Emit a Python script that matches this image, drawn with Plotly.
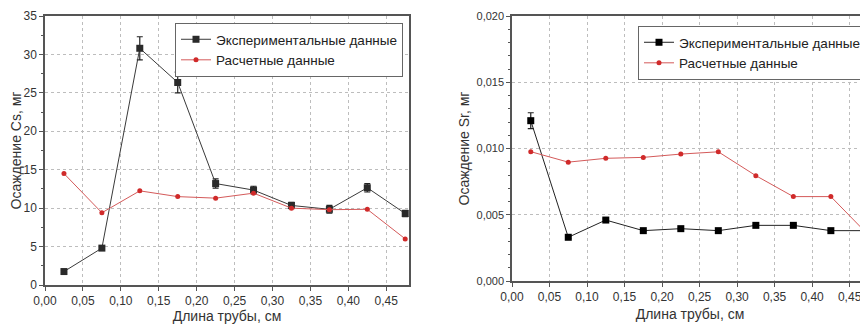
import plotly.graph_objects as go

x_len = [0.025, 0.075, 0.125, 0.175, 0.225, 0.275, 0.325, 0.375, 0.425, 0.475]

cs_exp = [1.75, 4.8, 30.8, 26.35, 13.2, 12.35, 10.35, 9.85, 12.65, 9.3]
cs_exp_err = [0.15, 0.2, 1.5, 1.35, 0.6, 0.5, 0.4, 0.5, 0.55, 0.4]
cs_calc = [14.5, 9.4, 12.25, 11.5, 11.3, 11.95, 10.0, 9.8, 9.85, 6.0]

sr_exp = [0.0121, 0.0033, 0.0046, 0.0038, 0.00395, 0.0038, 0.0042, 0.0042, 0.0038, 0.0038]
sr_exp_err = [0.0006, 0.0001, 0.0001, 0.00005, 0.00005, 0.00005, 0.00005, 0.00005, 0.00005, 0.00005]
sr_calc = [0.00976, 0.00897, 0.00926, 0.00933, 0.00958, 0.00975, 0.00795, 0.00637, 0.00637, 0.00347]

name_exp = "Экспериментальные данные"
name_calc = "Расчетные данные"
x_title = "Длина трубы, см"
y1_title = "Осаждение Cs, мг"
y2_title = "Осаждение Sr, мг"

# page body has an 8px default margin: the figure is drawn at (8, 8)
OFF = 8
W, H = 868 - OFF, 324 - OFF
FONT = "Arial, Liberation Sans, sans-serif"
RED = "#d02a2a"
RED_LINE = "#d45a5a"

fig = go.Figure()

fig.add_trace(go.Scatter(
    x=x_len, y=cs_exp, name=name_exp, mode="lines+markers",
    line=dict(color="#3a3a3a", width=1),
    marker=dict(symbol="square", size=7, color="#2a2a2a"),
    error_y=dict(type="data", array=cs_exp_err, color="#222", thickness=1.2, width=3),
    xaxis="x", yaxis="y", legend="legend"))
fig.add_trace(go.Scatter(
    x=x_len, y=cs_calc, name=name_calc, mode="lines+markers",
    line=dict(color=RED_LINE, width=1),
    marker=dict(symbol="circle", size=5, color=RED),
    xaxis="x", yaxis="y", legend="legend"))

fig.add_trace(go.Scatter(
    x=x_len, y=sr_exp, name=name_exp, mode="lines+markers",
    line=dict(color="#222", width=1),
    marker=dict(symbol="square", size=7, color="#000"),
    error_y=dict(type="data", array=sr_exp_err, color="#222", thickness=1.2, width=3),
    xaxis="x2", yaxis="y2", legend="legend2"))
fig.add_trace(go.Scatter(
    x=x_len, y=sr_calc, name=name_calc, mode="lines+markers",
    line=dict(color=RED_LINE, width=1),
    marker=dict(symbol="circle", size=5, color=RED),
    xaxis="x2", yaxis="y2", legend="legend2"))

def px_x(p):
    return (p - OFF) / W

def px_y(p):
    return (H - (p - OFF)) / H

axis_common = dict(
    showline=True, linecolor="#555", linewidth=1.5,
    ticks="outside", ticklen=4, tickcolor="#555", tickwidth=1,
    showgrid=True, gridcolor="#bdbdbd", griddash="dot", gridwidth=1,
    zeroline=False, automargin=False,
)
tick_font = dict(family=FONT, size=12, color="#333")
title_font = dict(family=FONT, size=14, color="#333")

fig.update_layout(
    width=W, height=H,
    margin=dict(l=0, r=0, t=0, b=0),
    paper_bgcolor="white", plot_bgcolor="white",
    separators=", ",
    font=dict(family=FONT, color="#333"),
    xaxis=dict(**axis_common, tickfont=tick_font, domain=[px_x(45), px_x(409)], range=[0, 0.48],
               dtick=0.05, tick0=0, tickformat=".2f", mirror=True, anchor="y",
               title=dict(text=x_title, font=title_font, standoff=6)),
    yaxis=dict(**axis_common, tickfont=tick_font, domain=[px_y(285), px_y(16)], range=[0, 35], dtick=5,
               mirror=True, anchor="x",
               minor=dict(ticks="outside", ticklen=2, dtick=2.5, tickcolor="#555", showgrid=False),
               title=dict(text=y1_title, font=title_font, standoff=11)),
    xaxis2=dict(**axis_common, tickfont=tick_font, domain=[px_x(512), 1.0], range=[0, 0.4745],
                dtick=0.05, tick0=0, tickformat=".2f", mirror=True, anchor="y2",
                title=dict(text=x_title, font=title_font, standoff=6)),
    yaxis2=dict(**axis_common, tickfont=dict(family=FONT, size=11, color="#333"),
                domain=[px_y(281), px_y(16)], range=[0, 0.020], dtick=0.005,
                tickformat=".3f", mirror=False, anchor="x2",
                minor=dict(ticks="outside", ticklen=2, dtick=0.001, tickcolor="#555", showgrid=False),
                title=dict(text=y2_title, font=title_font, standoff=4)),
    legend=dict(x=px_x(403), xanchor="right", y=px_y(23), yanchor="top",
                bgcolor="white", bordercolor="#666", borderwidth=1,
                font=dict(family=FONT, size=13.5, color="#222"),
                tracegroupgap=0, itemwidth=30),
    legend2=dict(x=px_x(866), xanchor="right", y=px_y(26), yanchor="top",
                 bgcolor="white", bordercolor="#666", borderwidth=1,
                 font=dict(family=FONT, size=13.5, color="#222"),
                 tracegroupgap=0, itemwidth=30),
)

fig.write_html("out.html")
